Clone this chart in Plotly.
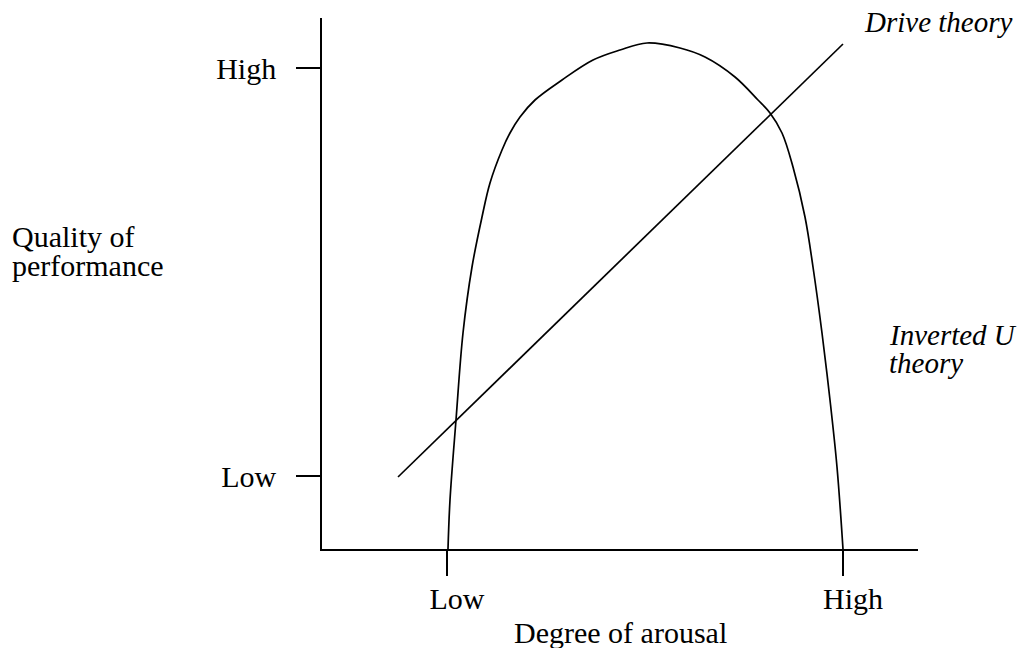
import plotly.graph_objects as go

# Inverted-U curve (arousal, performance)
u_arousal = [126, 128, 134, 141, 150, 160, 168, 180, 188, 198, 213, 240, 271, 298, 325,
             358, 383, 413, 436, 448, 460, 471, 483, 491, 500, 508, 515, 521]
u_perf = [0, 49, 129, 216, 282, 332, 366, 399, 416, 432, 449, 469, 489, 499, 506,
          501, 492, 472, 449, 436, 416, 382, 332, 282, 216, 149, 82, 0]

# Drive theory straight line
drive_arousal = [76, 521]
drive_perf = [72, 505]

x_tickvals = [125, 521]
x_ticktext = ["Low", "High"]
y_tickvals = [481, 73]
y_ticktext = ["High", "Low"]

FONT = "Liberation Serif, Times New Roman, serif"
FS = 30

fig = go.Figure()
fig.add_trace(go.Scatter(x=u_arousal, y=u_perf, mode="lines",
                         line=dict(color="black", width=1.7, shape="spline", smoothing=1.0),
                         hoverinfo="skip", showlegend=False))
fig.add_trace(go.Scatter(x=drive_arousal, y=drive_perf, mode="lines",
                         line=dict(color="black", width=1.7),
                         hoverinfo="skip", showlegend=False))

fig.update_xaxes(range=[0, 596], showline=True, linecolor="black", linewidth=1.7,
                 showgrid=False, zeroline=False, ticks="outside", ticklen=25,
                 tickwidth=1.7, tickcolor="black", tickvals=x_tickvals, ticktext=x_ticktext,
                 tickfont=dict(family=FONT, size=FS, color="black"),
                 ticklabelstandoff=-3, ticklabelshift=10)
fig.update_yaxes(range=[0, 531], showline=True, linecolor="black", linewidth=1.7,
                 showgrid=False, zeroline=False, ticks="outside", ticklen=24,
                 tickwidth=1.7, tickcolor="black", tickvals=y_tickvals, ticktext=y_ticktext,
                 tickfont=dict(family=FONT, size=FS, color="black"),
                 ticklabelstandoff=14)

ann_font = dict(family=FONT, size=FS, color="black")
paper_annotations = [
    dict(x=-0.5235, y=0.5877, text="Quality of", xanchor="left", yanchor="middle"),
    dict(x=-0.5235, y=0.5347, text="performance", xanchor="left", yanchor="middle"),
    dict(x=0.5, y=-0.158, text="Degree of arousal", xanchor="center", yanchor="middle"),
]
for a in paper_annotations:
    fig.add_annotation(xref="paper", yref="paper", showarrow=False, font=ann_font, **a)

it_font = dict(family=FONT, size=29, color="black")
data_annotations = [
    dict(x=540, y=527, text="<i>Drive theory</i>", xanchor="left", yanchor="middle"),
    dict(x=565, y=214, text="<i>Inverted U</i>", xanchor="left", yanchor="middle"),
    dict(x=565, y=186, text="<i>theory</i>", xanchor="left", yanchor="middle"),
]
for a in data_annotations:
    fig.add_annotation(xref="x", yref="y", showarrow=False, font=it_font, **a)

fig.update_layout(width=1017, height=648, plot_bgcolor="white", paper_bgcolor="white",
                  margin=dict(l=322, r=99, t=18, b=99), showlegend=False)

fig.write_html("out.html", config={"displayModeBar": False},
               post_script="document.body.style.margin='0px';document.body.style.overflow='hidden';")
